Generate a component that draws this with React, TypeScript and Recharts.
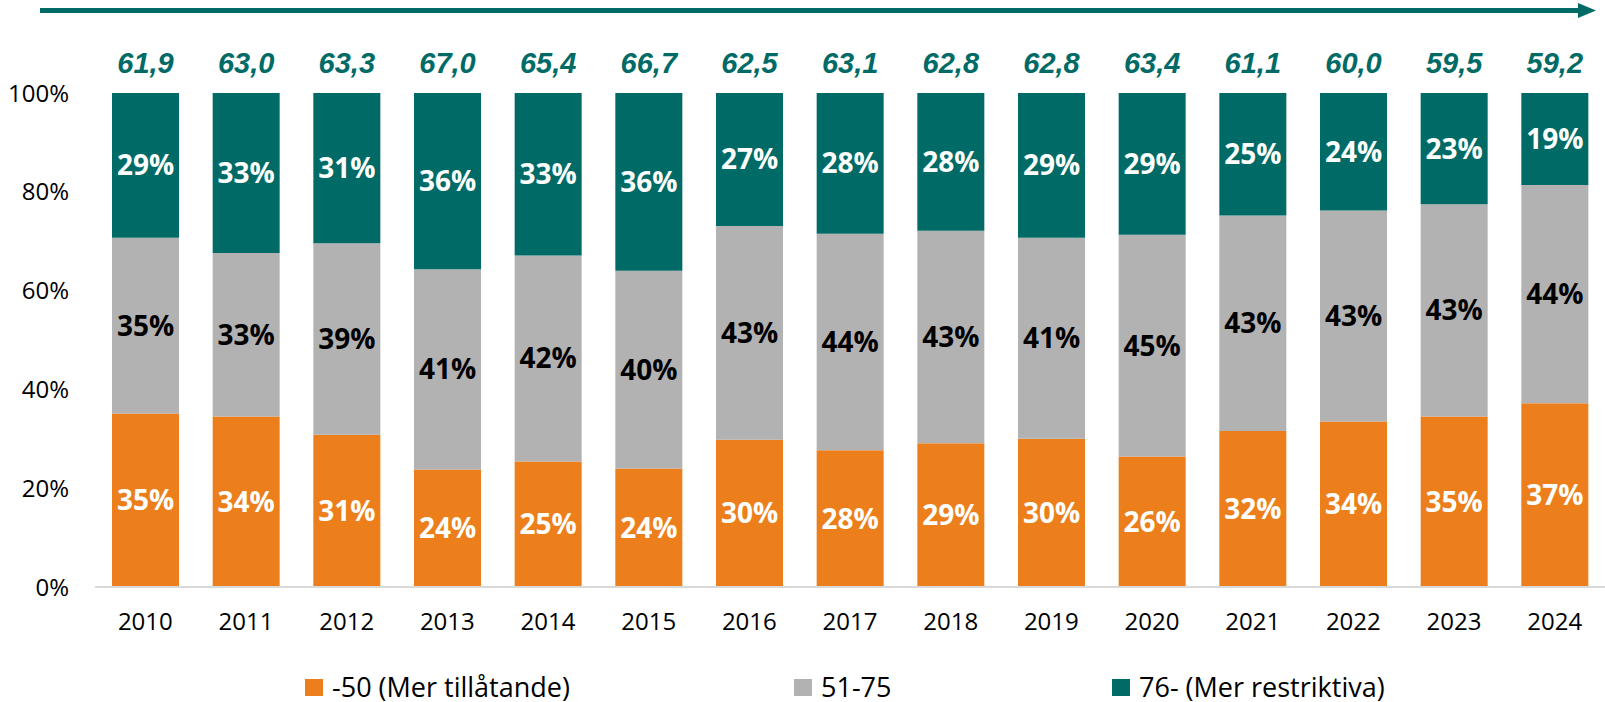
import React from 'react';
import { BarChart, Bar, XAxis, YAxis, Legend, LabelList } from 'recharts';

const years = ['2010', '2011', '2012', '2013', '2014', '2015', '2016', '2017', '2018', '2019', '2020', '2021', '2022', '2023', '2024'];
const averages = ['61,9', '63,0', '63,3', '67,0', '65,4', '66,7', '62,5', '63,1', '62,8', '62,8', '63,4', '61,1', '60,0', '59,5', '59,2'];
const lowValues = [35.1, 34.5, 30.8, 23.8, 25.4, 24.0, 29.8, 27.7, 29.1, 30.0, 26.4, 31.6, 33.5, 34.5, 37.2];
const midValues = [35.6, 33.1, 38.8, 40.5, 41.7, 40.0, 43.3, 43.8, 43.0, 40.7, 44.9, 43.6, 42.7, 43.0, 44.2];
const highValues = [29.3, 32.4, 30.4, 35.7, 32.9, 36.0, 26.9, 28.5, 27.9, 29.3, 28.7, 24.8, 23.8, 22.5, 18.6];
const lowLabels = ['35%', '34%', '31%', '24%', '25%', '24%', '30%', '28%', '29%', '30%', '26%', '32%', '34%', '35%', '37%'];
const midLabels = ['35%', '33%', '39%', '41%', '42%', '40%', '43%', '44%', '43%', '41%', '45%', '43%', '43%', '43%', '44%'];
const highLabels = ['29%', '33%', '31%', '36%', '33%', '36%', '27%', '28%', '28%', '29%', '29%', '25%', '24%', '23%', '19%'];
const yTicks = [0, 20, 40, 60, 80, 100];
const seriesNames = ['-50 (Mer tillåtande)', '51-75', '76- (Mer restriktiva)'];

const ORANGE = '#EC7F1B';
const GRAY = '#B2B2B2';
const TEAL = '#006B66';
const FONT = '"Open Sans", sans-serif';
const AVG_FONT = '"Liberation Sans", Arial, sans-serif';

const data = years.map((y, i) => ({
  year: y,
  low: lowValues[i],
  mid: midValues[i],
  high: highValues[i],
  lowLabel: lowLabels[i],
  midLabel: midLabels[i],
  highLabel: highLabels[i],
  avg: averages[i],
}));

const legendColors = [ORANGE, GRAY, TEAL];
const legendLefts = [305, 794, 1112];

const LegendContent = () => (
  <div style={{ position: 'relative', width: 1605, height: 30, fontFamily: FONT }}>
    {seriesNames.map((n, i) => (
      <div key={n} style={{ position: 'absolute', left: legendLefts[i], top: 0, display: 'flex', alignItems: 'center', height: 30 }}>
        <div style={{ width: 18, height: 17, background: legendColors[i], marginRight: 9 }} />
        <span style={{ fontSize: 27, color: '#000', whiteSpace: 'nowrap', lineHeight: '30px' }}>{n}</span>
      </div>
    ))}
  </div>
);

export default function App() {
  return (
    <div style={{ position: 'absolute', left: 0, top: 0, width: 1605, height: 702, background: '#fff' }}>
      <svg width={1605} height={24} style={{ position: 'absolute', left: 0, top: 0 }}>
        <line x1={40} y1={10.5} x2={1582} y2={10.5} stroke={TEAL} strokeWidth={5} />
        <polygon points="1578,3 1596,10.5 1578,18" fill={TEAL} />
      </svg>
      <BarChart
        width={1605}
        height={702}
        data={data}
        margin={{ top: 93, right: 0, left: 0, bottom: 55 }}
        barCategoryGap="0%"
        style={{ fontFamily: FONT }}
      >
        <XAxis
          dataKey="year"
          height={30}
          axisLine={{ stroke: '#D9D9D9', strokeWidth: 2 }}
          tickLine={false}
          tickSize={0}
          tickMargin={26}
          tick={{ fill: '#000', fontSize: 24, fontFamily: FONT }}
          interval={0}
        />
        <YAxis
          width={95}
          domain={[0, 100]}
          ticks={yTicks}
          tickFormatter={(v: number) => `${v}%`}
          axisLine={false}
          tickLine={false}
          tickSize={0}
          tickMargin={26}
          tick={{ fill: '#000', fontSize: 24, fontFamily: FONT }}
          allowDataOverflow
        />
        <Legend verticalAlign="bottom" height={30} content={<LegendContent />} wrapperStyle={{ left: 0, top: 672, width: 1605, height: 30 }} />
        <Bar dataKey="low" stackId="a" fill={ORANGE} barSize={67} isAnimationActive={false}>
          <LabelList dataKey="lowLabel" position="center" fill="#fff" style={{ fontSize: 28, fontWeight: 700, fontFamily: FONT }} />
        </Bar>
        <Bar dataKey="mid" stackId="a" fill={GRAY} barSize={67} isAnimationActive={false}>
          <LabelList dataKey="midLabel" position="center" fill="#000" style={{ fontSize: 28, fontWeight: 700, fontFamily: FONT }} />
        </Bar>
        <Bar dataKey="high" stackId="a" fill={TEAL} barSize={67} isAnimationActive={false}>
          <LabelList dataKey="highLabel" position="center" fill="#fff" style={{ fontSize: 28, fontWeight: 700, fontFamily: FONT }} />
          <LabelList dataKey="avg" position="top" offset={20} fill={TEAL} style={{ fontSize: 29, fontWeight: 700, fontStyle: 'italic', fontFamily: AVG_FONT }} />
        </Bar>
      </BarChart>
    </div>
  );
}
